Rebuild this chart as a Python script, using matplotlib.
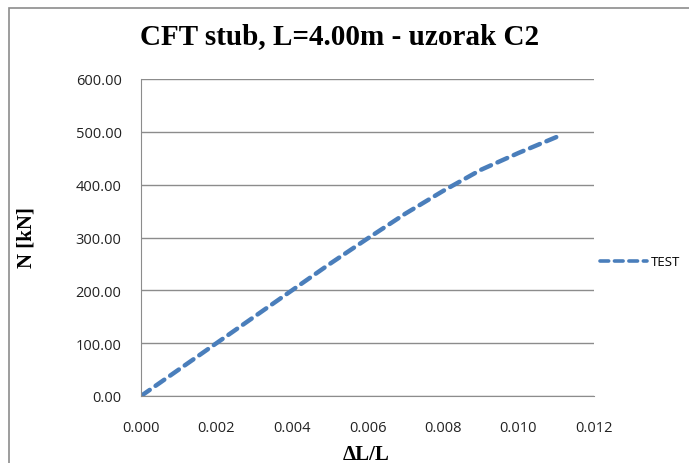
import matplotlib
matplotlib.use("Agg")
import matplotlib.pyplot as plt
from matplotlib.patches import Rectangle
from matplotlib.ticker import FormatStrFormatter

# Values
strain = [0.0, 0.001, 0.002, 0.003, 0.004, 0.005, 0.006, 0.007, 0.008, 0.009, 0.010, 0.011]
force = [0.0, 50.0, 100.0, 150.0, 200.0, 250.0, 298.0, 345.0, 388.0, 428.0, 460.0, 490.0]
x_ticks = [0.000, 0.002, 0.004, 0.006, 0.008, 0.010, 0.012]
y_ticks = [0, 100, 200, 300, 400, 500, 600]

fig = plt.figure(figsize=(6.89, 4.64), dpi=100)
fig.patches.append(Rectangle((9 / 689, -0.1), 1.2, 1.1 - 9 / 464,
                             transform=fig.transFigure, fill=False,
                             edgecolor="#8c8c8c", linewidth=1.2))

ax = fig.add_axes([141 / 689, 1 - 397 / 464, (594 - 141) / 689, (397 - 80) / 464])

line, = ax.plot(strain, force, color="#4a7ebb", linewidth=3.2, label="TEST",
                dash_capstyle="round", solid_capstyle="round")
line.set_dashes([2.4, 1.6])

ax.set_xlim(0, 0.012)
ax.set_ylim(0, 600)
ax.set_xticks(x_ticks)
ax.set_yticks(y_ticks)
ax.xaxis.set_major_formatter(FormatStrFormatter("%.3f"))
ax.yaxis.set_major_formatter(FormatStrFormatter("%.2f"))
ax.tick_params(length=0, labelsize=10.5, colors="#222222")
ax.tick_params(axis="x", pad=17)
ax.tick_params(axis="y", pad=14)
for lab in ax.get_xticklabels() + ax.get_yticklabels():
    lab.set_family("Open Sans")

ax.grid(axis="y", color="#8c8c8c", linewidth=1.0)
ax.set_axisbelow(True)
for side in ["top", "right"]:
    ax.spines[side].set_visible(False)
for side in ["left", "bottom"]:
    ax.spines[side].set_color("#8c8c8c")

serif = "Liberation Serif"
fig.text(340 / 689, 1 - 37 / 464, "CFT stub, L=4.00m - uzorak C2", ha="center", va="center",
         family=serif, fontweight="bold", fontsize=21)
fig.text(27 / 689, 1 - 238 / 464, "N [kN]", ha="center", va="center", rotation=90,
         family=serif, fontweight="bold", fontsize=15)
fig.text(366 / 689, 1 - 455 / 464, "\u0394L/L", ha="center", va="center",
         family=serif, fontweight="bold", fontsize=15)

leg = fig.legend(handles=[line], loc="center left", bbox_to_anchor=(588 / 689, 1 - 263 / 464),
                 frameon=False, handlelength=3.6, handletextpad=0.3,
                 prop={"family": "Open Sans", "size": 9.5})
leg.get_lines()[0].set_linewidth(2.6)

fig.savefig("out.png", dpi=100)
